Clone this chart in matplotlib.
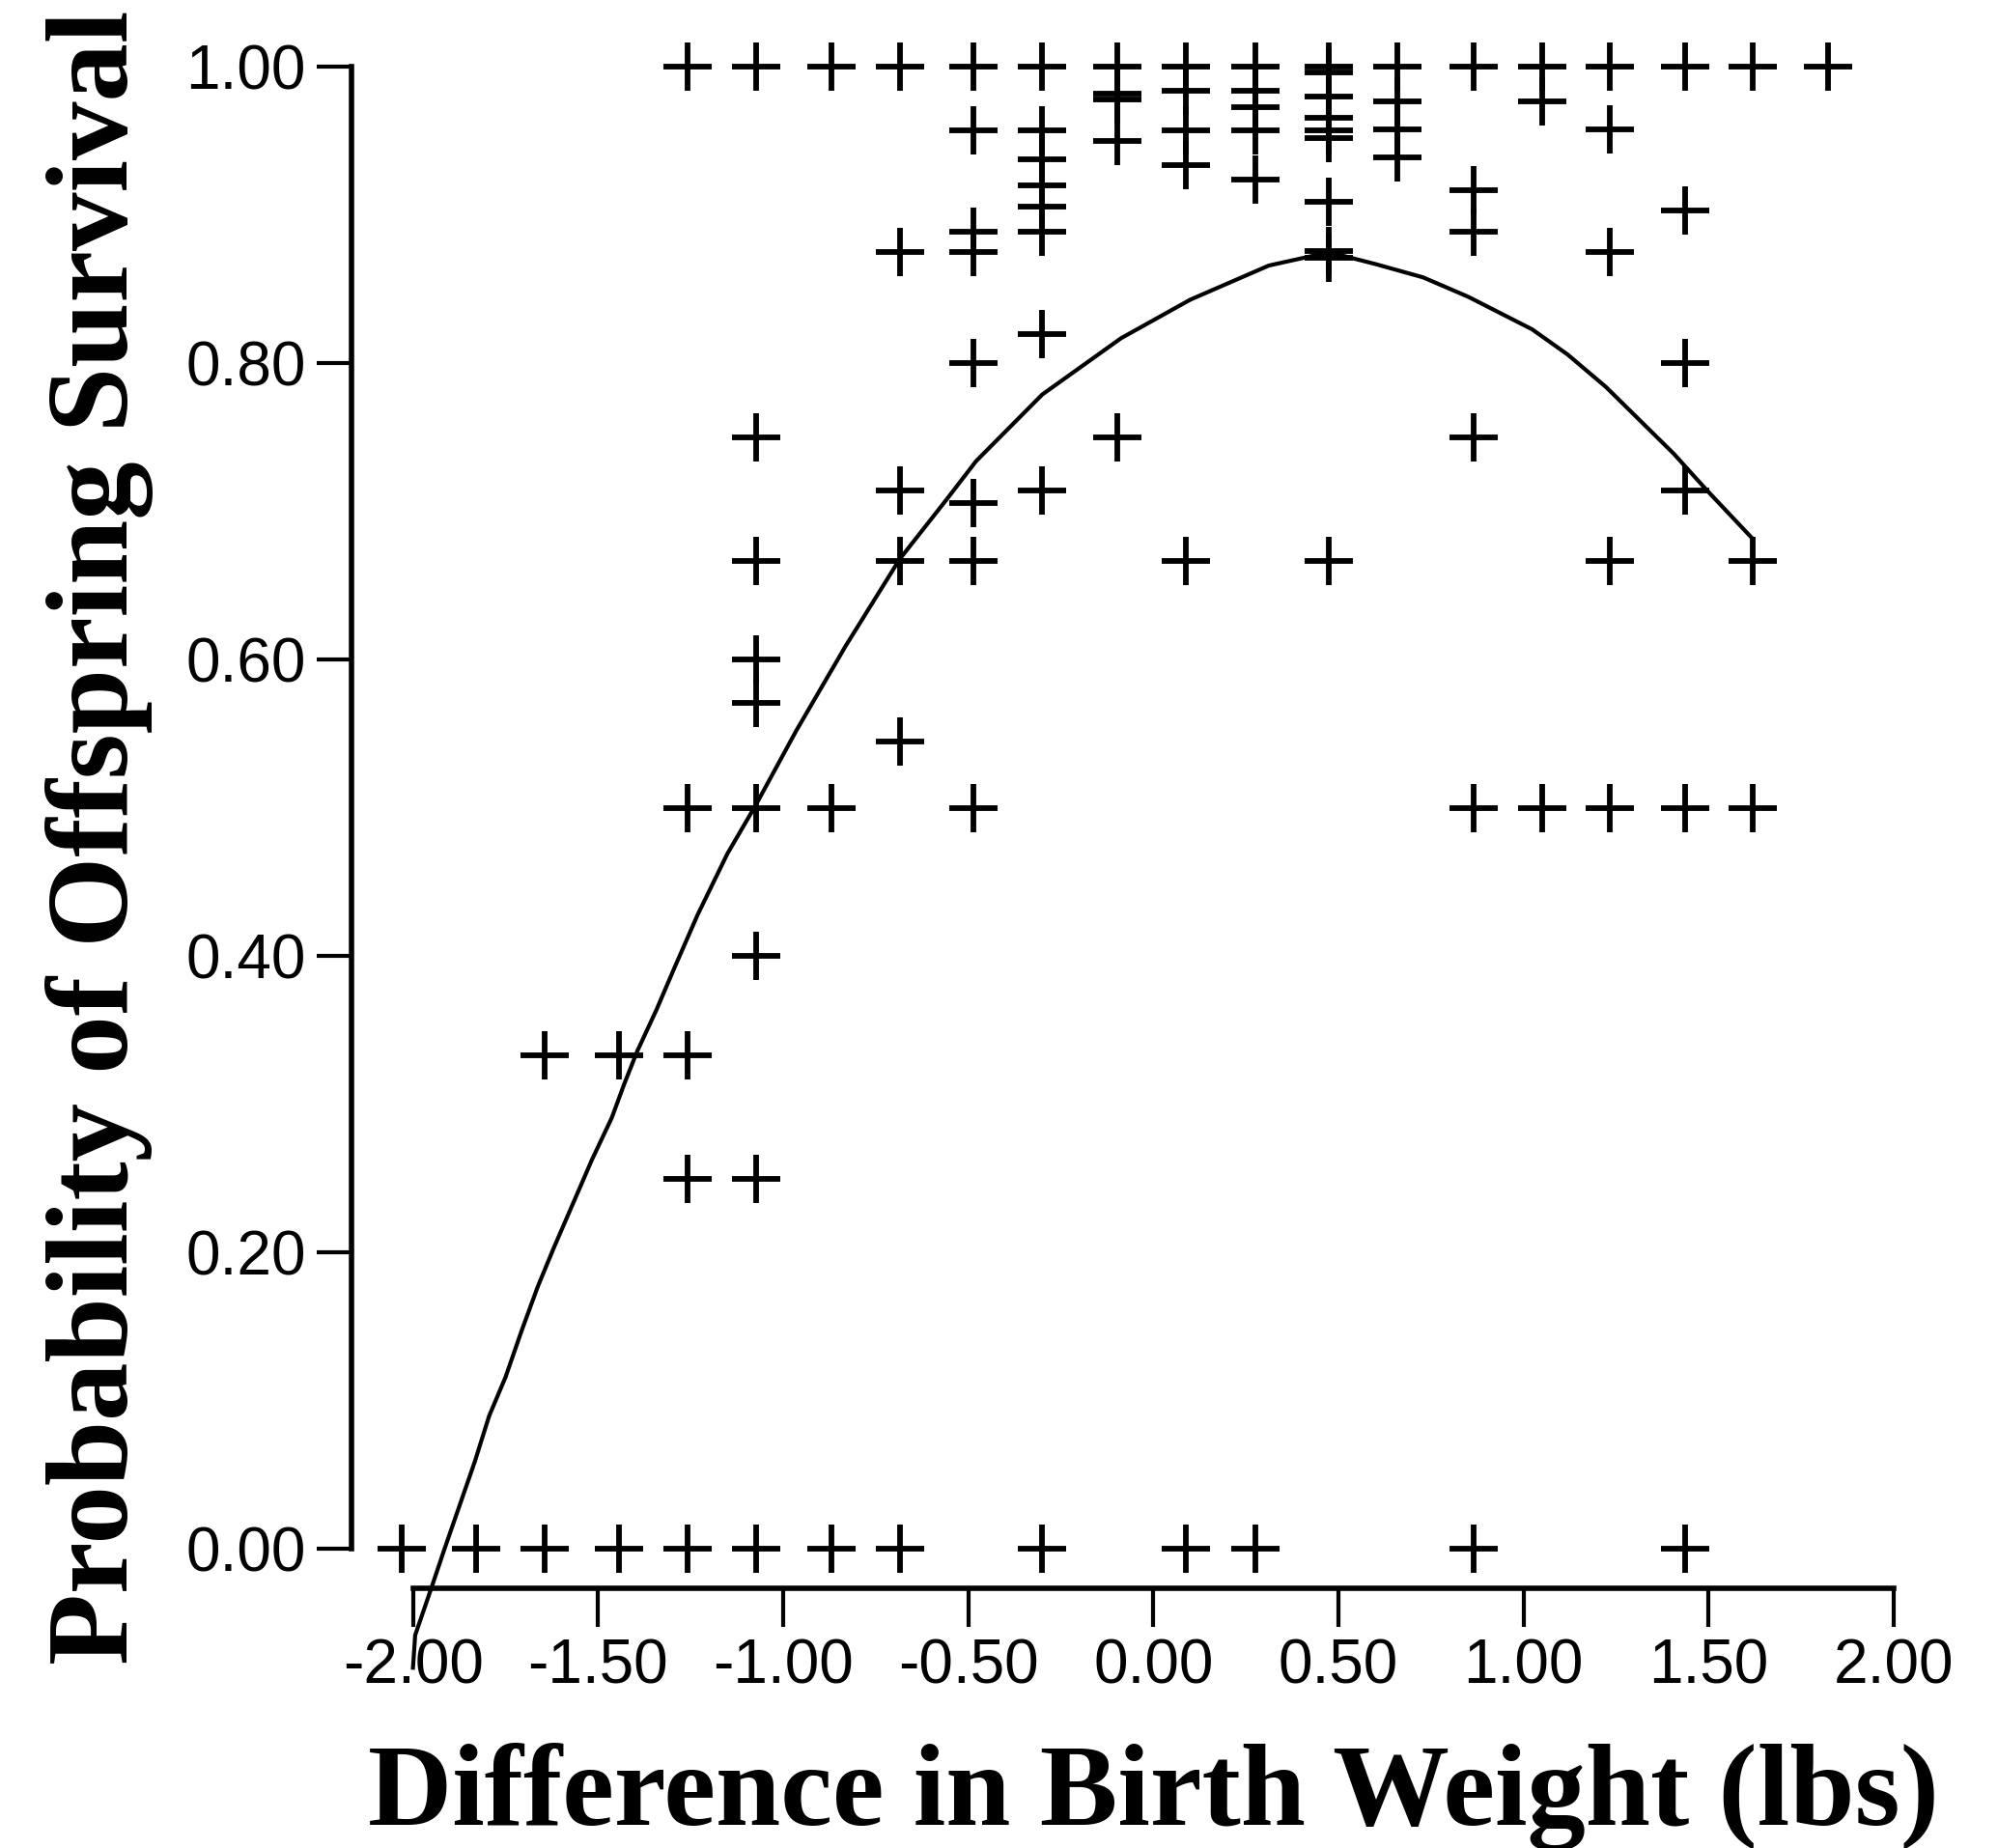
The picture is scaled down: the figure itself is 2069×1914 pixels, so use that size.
import matplotlib
matplotlib.use("Agg")
import matplotlib.pyplot as plt
from matplotlib import font_manager
from matplotlib.ticker import FormatStrFormatter

# x positions of the point columns (difference in birth weight, lbs)
col_x = [-2.03, -1.83, -1.645, -1.443, -1.258, -1.073, -0.870, -0.685, -0.485, -0.30,
         -0.097, 0.088, 0.275, 0.475, 0.66, 0.865, 1.05, 1.232, 1.436, 1.618, 1.822]

# survival probabilities observed in each column
col_y = [
    [0.0],
    [0.0],
    [0.333, 0.0],
    [0.333, 0.0],
    [1.0, 0.5, 0.333, 0.25, 0.0],
    [1.0, 0.75, 0.667, 0.6, 0.571, 0.5, 0.4, 0.25, 0.0],
    [1.0, 0.5, 0.0],
    [1.0, 0.875, 0.714, 0.667, 0.545, 0.0],
    [1.0, 0.957, 0.889, 0.875, 0.8, 0.706, 0.667, 0.5],
    [1.0, 0.957, 0.938, 0.92, 0.906, 0.889, 0.82, 0.714, 0.0],
    [1.0, 0.982, 0.978, 0.95, 0.75],
    [1.0, 0.984, 0.957, 0.934, 0.667, 0.0],
    [1.0, 0.984, 0.973, 0.957, 0.924, 0.0],
    [1.0, 0.996, 0.98, 0.966, 0.957, 0.952, 0.909, 0.876, 0.871, 0.667],
    [1.0, 0.977, 0.958, 0.939],
    [1.0, 0.917, 0.889, 0.75, 0.5, 0.0],
    [1.0, 0.977, 0.5],
    [1.0, 0.958, 0.875, 0.667, 0.5],
    [1.0, 0.903, 0.8, 0.714, 0.5, 0.0],
    [1.0, 0.667, 0.5],
    [1.0],
]

# fitted curve
fit_x = [-2.00, -1.994, -1.95, -1.915, -1.833, -1.794, -1.75, -1.707, -1.663, -1.62,
         -1.568, -1.516, -1.463, -1.429, -1.394, -1.342, -1.294, -1.231, -1.151, -1.074,
         -0.965, -0.832, -0.685, -0.559, -0.479, -0.30, -0.087, 0.10, 0.312, 0.475,
         0.60, 0.729, 0.85, 1.023, 1.119, 1.223, 1.406, 1.493, 1.614]
fit_y = [-0.080, -0.058, -0.026, 0.0, 0.059, 0.090, 0.116, 0.147, 0.177, 0.203,
         0.233, 0.263, 0.291, 0.314, 0.336, 0.364, 0.392, 0.428, 0.469, 0.502,
         0.552, 0.609, 0.668, 0.708, 0.734, 0.779, 0.817, 0.843, 0.866, 0.875,
         0.867, 0.858, 0.845, 0.823, 0.806, 0.784, 0.739, 0.715, 0.683]

x_ticks = [-2.0, -1.5, -1.0, -0.5, 0.0, 0.5, 1.0, 1.5, 2.0]
y_ticks = [0.0, 0.2, 0.4, 0.6, 0.8, 1.0]

plt.rcParams['axes.unicode_minus'] = False

names = {f.name for f in font_manager.fontManager.ttflist}
if 'Liberation Sans Narrow' in names:
    tick_font, tick_size = 'Liberation Sans Narrow', 50
else:
    tick_font, tick_size = 'Liberation Sans', 46


def main():
    xs = [x for x, ys in zip(col_x, col_y) for _ in ys]
    ys = [y for ys_ in col_y for y in ys_]

    fig = plt.figure(figsize=(20.69, 19.14), dpi=100)
    ax = fig.add_axes([0.17593, 0.14054, 0.77187, 0.82324])

    ax.plot(xs, ys, linestyle='none', marker='+', markersize=36,
            markeredgewidth=4.2, color='black', clip_on=False)
    ax.plot(fit_x, fit_y, color='black', linewidth=3, clip_on=False)

    ax.set_xlim(-2.166, 2.0)
    ax.set_ylim(-0.0264, 1.0)

    # SPSS style detached axes
    for side in ['top', 'right']:
        ax.spines[side].set_visible(False)
    ax.spines['left'].set_bounds(0, 1)
    ax.spines['bottom'].set_bounds(-2, 2)
    ax.spines['left'].set_linewidth(4)
    ax.spines['bottom'].set_linewidth(4)

    ax.set_xticks(x_ticks)
    ax.set_yticks(y_ticks)
    ax.xaxis.set_major_formatter(FormatStrFormatter('%.2f'))
    ax.yaxis.set_major_formatter(FormatStrFormatter('%.2f'))
    ax.tick_params(axis='x', length=29, width=3, pad=8)
    ax.tick_params(axis='y', length=26, width=3, pad=8)
    for lab in ax.get_xticklabels() + ax.get_yticklabels():
        lab.set_fontfamily(tick_font)
        lab.set_fontsize(tick_size)

    ax.set_xlabel('Difference in Birth Weight (lbs)', family='Liberation Serif',
                  fontsize=87, fontweight='bold', va='baseline')
    ax.xaxis.set_label_coords(1194 / 2069, 24 / 1914, transform=fig.transFigure)
    ax.set_ylabel('Probability of Offspring Survival', family='Liberation Serif',
                  fontsize=87, fontweight='bold', va='baseline')
    ax.yaxis.set_label_coords(132 / 2069, 0.5468, transform=fig.transFigure)

    fig.savefig('out.png', dpi=100, facecolor='white')


if __name__ == "__main__":
    main()
